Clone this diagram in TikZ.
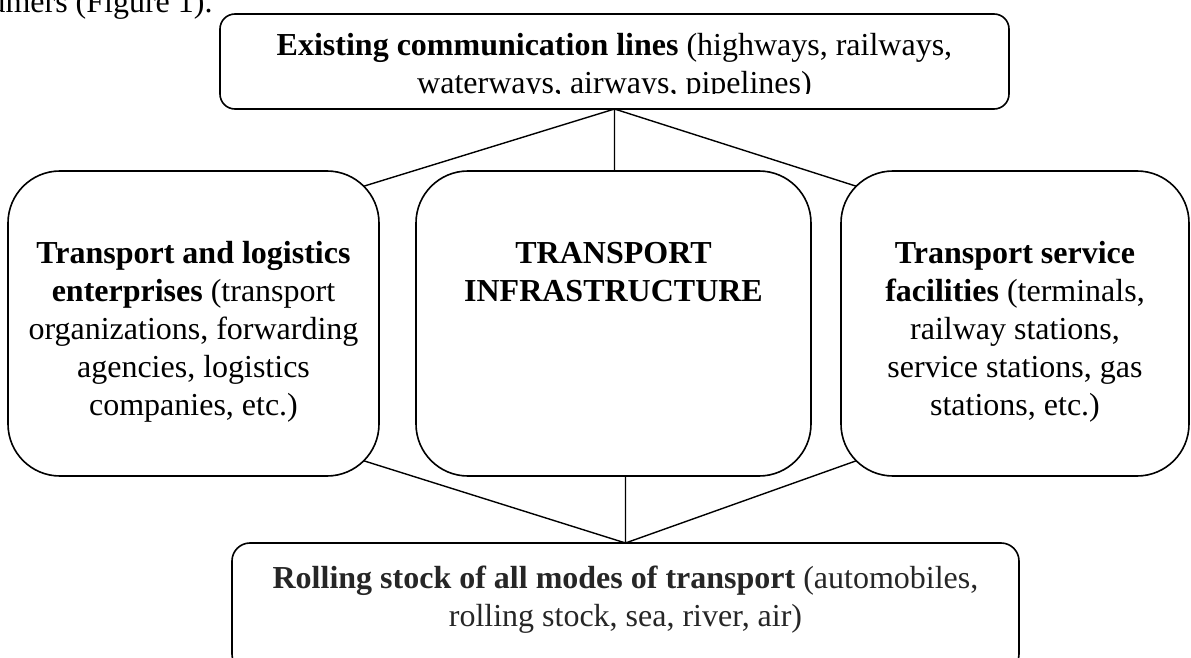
\documentclass[tikz,border=0pt]{standalone}
\usepackage{fontspec}
\setmainfont{Liberation Serif}
\usetikzlibrary{positioning}
\begin{document}
\begin{tikzpicture}[x=0.5pt, y=-0.5pt, line join=round, line cap=round,
	font=\fontsize{16}{19}\selectfont,
	box/.style={draw, line width=0.8pt, inner sep=0pt, outer sep=0pt, rounded corners=26pt, minimum height=152.5pt},
	txt/.style={align=center, inner sep=0pt}]
	\useasboundingbox (0,0) rectangle (1191,658);
	% end of the sentence above the figure
	\node[anchor=base east, inner sep=0pt] (prev) at (213,13) {consumers (Figure 1).};
	% boxes
	\node[box, rounded corners=7.5pt, minimum width=394.5pt, minimum height=47.5pt] (lines) at (614.5,61.5) {};
	\node[box, minimum width=185.5pt] (logis) at (193.5,323.5) {};
	\node[box, minimum width=197.5pt] (infra) at (613.5,323.5) {};
	\node[box, minimum width=174pt] (serv) at (1015,323.5) {};
	\node[box, rounded corners=9pt, minimum width=393.5pt, minimum height=64.5pt] (rolling) at (625.5,607.5) {};
	% texts
	\begin{scope}
		\clip (220,14) rectangle (1009,94);
		\node[txt, below=9.5pt of lines.north] (linestxt) {\textbf{Existing communication lines} (highways, railways,\\ waterways, airways, pipelines)};
	\end{scope}
	\node[txt, below=35pt of logis.north] (logistxt) {\textbf{Transport and logistics}\\ \textbf{enterprises} (transport\\ organizations, forwarding\\ agencies, logistics\\ companies, etc.)};
	\node[txt, below=35.5pt of infra.north] (infratxt) {\textbf{TRANSPORT}\\ \textbf{INFRASTRUCTURE}};
	\node[txt, below=35pt of serv.north] (servtxt) {\textbf{Transport service}\\ \textbf{facilities} (terminals,\\ railway stations,\\ service stations, gas\\ stations, etc.)};
	\node[txt, text=black!85, below=11.5pt of rolling.north] (rollingtxt) {\textbf{Rolling stock of all modes of transport} (automobiles,\\ rolling stock, sea, river, air)};
	% connectors
	\coordinate (top) at (lines.south);
	\coordinate (bot) at (rolling.north);
	\draw[line width=0.7pt] ([xshift=-7.6pt, yshift=-7.6pt]logis.north east) -- (top) -- ([xshift=7.6pt, yshift=-7.6pt]serv.north west)
		(top) -- (top |- infra.north);
	\draw[line width=0.7pt] ([xshift=-7.6pt, yshift=7.6pt]logis.south east) -- (bot) -- ([xshift=7.6pt, yshift=7.6pt]serv.south west)
		(bot) -- (bot |- infra.south);
\end{tikzpicture}
\end{document}
